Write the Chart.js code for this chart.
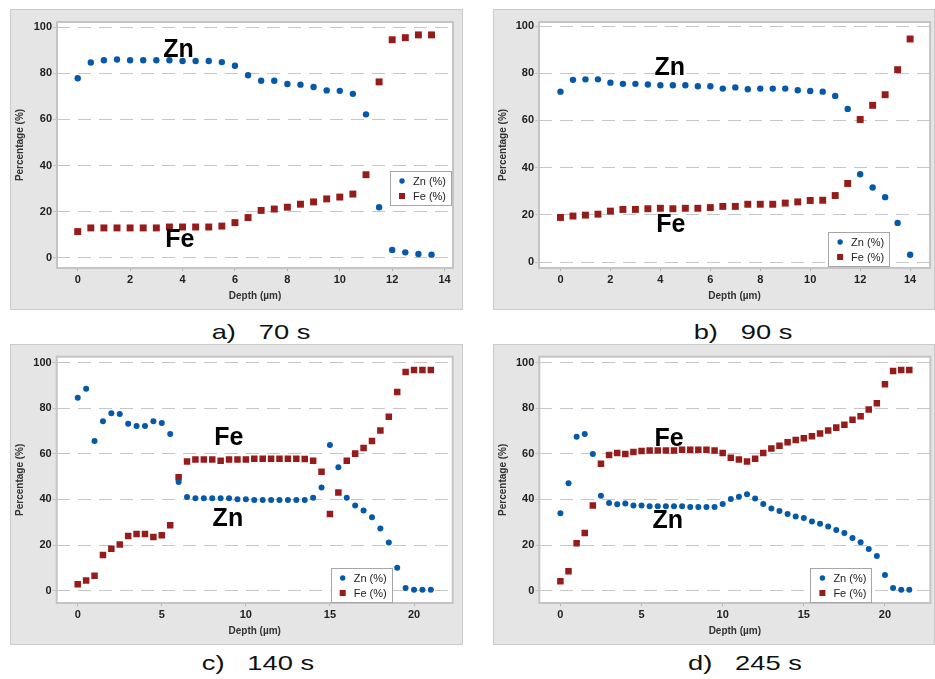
<!DOCTYPE html>
<html><head><meta charset="utf-8">
<script src="https://cdn.jsdelivr.net/npm/chart.js@4.4.1/dist/chart.umd.min.js"></script>
<style>
html,body{margin:0;padding:0;background:#fff;width:935px;height:679px;overflow:hidden;font-family:"Liberation Sans",Arial,sans-serif;}
canvas{position:absolute;}
.cap{position:absolute;font-size:21px;color:#111;white-space:pre;line-height:1;transform:translate(-50%,-50%) scaleX(1.3);}
</style></head><body>
<canvas id="ca" width="453" height="301" style="left:10px;top:9px"></canvas>
<canvas id="cb" width="442" height="301" style="left:493px;top:9px"></canvas>
<canvas id="cc" width="453" height="301" style="left:10px;top:344px"></canvas>
<canvas id="cd" width="442" height="301" style="left:493px;top:344px"></canvas>
<div class="cap" style="left:261px;top:331px">a)   70 s</div>
<div class="cap" style="left:743px;top:331px">b)   90 s</div>
<div class="cap" style="left:258px;top:662px">c)   140 s</div>
<div class="cap" style="left:745px;top:662px">d)   245 s</div>
<script>
// ---------- DATA ----------
const yTicks = [0, 20, 40, 60, 80, 100];
const xTicksAB = [0, 2, 4, 6, 8, 10, 12, 14];
const xTicksCD = [0, 5, 10, 15, 20];
const seriesNames = ['Zn (%)', 'Fe (%)'];

// a) 70 s
const depthA = [0,0.5,1,1.5,2,2.5,3,3.5,4,4.5,5,5.5,6,6.5,7,7.5,8,8.5,9,9.5,10,10.5,11,11.5,12,12.5,13,13.5];
const znA = [77.9,84.7,85.7,86.0,85.7,85.7,85.7,85.7,85.4,85.4,85.4,84.9,83.3,79.2,76.8,76.8,75.4,75.1,74.1,72.6,72.4,71.1,62.2,21.9,3.3,2.3,1.6,1.3];
const feA = [11.3,12.9,12.9,12.9,12.9,12.9,12.9,13.3,13.3,13.3,13.3,13.7,15.2,17.4,20.5,21.1,21.9,23.2,24.2,25.5,26.3,27.6,36.0,76.3,94.6,95.5,96.7,96.7];

// b) 90 s
const depthB = [0,0.5,1,1.5,2,2.5,3,3.5,4,4.5,5,5.5,6,6.5,7,7.5,8,8.5,9,9.5,10,10.5,11,11.5,12,12.5,13,13.5,14];
const znB = [72.2,77.2,77.4,77.4,76.0,75.5,75.5,75.2,74.9,74.9,74.9,74.5,74.5,73.5,74.0,73.2,73.5,73.5,73.5,72.8,72.5,72.2,70.4,64.9,37.2,31.6,27.5,16.6,3.1];
const feB = [18.9,19.5,19.9,20.3,21.6,22.3,22.3,22.6,22.8,22.6,22.8,22.8,23.1,23.6,23.6,24.5,24.5,24.5,25.0,25.5,26.1,26.2,28.2,33.3,60.4,66.4,70.9,81.5,94.5];

// c) 140 s
const depthC = [0,0.5,1,1.5,2,2.5,3,3.5,4,4.5,5,5.5,6,6.5,7,7.5,8,8.5,9,9.5,10,10.5,11,11.5,12,12.5,13,13.5,14,14.5,15,15.5,16,16.5,17,17.5,18,18.5,19,19.5,20,20.5,21];
const znC = [84.6,88.5,65.6,74.3,77.8,77.5,73.2,72.2,72.2,74.3,73.5,68.7,47.7,41.1,40.5,40.5,40.5,40.5,40.5,40.1,40.1,39.8,39.8,39.8,39.8,39.8,39.8,39.8,40.8,45.3,63.9,54.1,40.8,37.4,35.2,32.2,27.3,21.1,10.1,1.2,0.4,0.4,0.4];
const feC = [2.8,4.5,6.6,15.6,18.4,20.2,24.0,24.9,24.9,23.5,24.3,28.7,49.7,56.6,57.5,57.5,57.5,57.0,57.5,57.5,57.5,57.9,57.9,57.9,57.9,57.9,57.9,57.7,57.0,52.2,33.6,43.0,57.0,60.1,62.6,65.6,70.2,76.3,87.1,95.9,96.8,96.8,96.8];

// d) 245 s
const depthD = [0,0.5,1,1.5,2,2.5,3,3.5,4,4.5,5,5.5,6,6.5,7,7.5,8,8.5,9,9.5,10,10.5,11,11.5,12,12.5,13,13.5,14,14.5,15,15.5,16,16.5,17,17.5,18,18.5,19,19.5,20,20.5,21,21.5];
const znD = [33.9,47.1,67.5,68.7,59.9,41.6,38.4,37.9,38.2,37.4,37.4,37.0,37.0,37.0,37.0,37.0,36.7,36.7,36.7,36.7,38.0,40.2,41.2,42.3,40.4,38.0,36.0,34.9,33.6,32.5,31.9,30.3,29.4,28.1,26.6,25.3,23.1,21.2,18.3,15.2,6.9,1.2,0.4,0.4];
const feD = [4.1,8.5,20.8,25.3,37.3,55.7,59.5,60.4,59.9,60.8,61.3,61.5,61.5,61.5,61.5,61.8,61.8,61.8,61.8,61.5,60.4,58.3,57.5,56.6,57.9,60.4,62.4,63.5,65.1,66.1,66.8,67.7,68.9,70.2,71.5,72.8,74.9,76.5,79.4,82.2,90.5,96.3,96.8,96.8];

// ---------- STYLE ----------
const ZN_COLOR = '#0659a8';
const FE_COLOR = '#961b1b';
const FONT = '"Liberation Sans", Arial, sans-serif';

const panelPlugin = {
  id: 'panel',
  beforeDraw(chart) {
    const {ctx, width, height, chartArea: a} = chart;
    ctx.save();
    ctx.fillStyle = '#e5e5e5';
    ctx.fillRect(0, 0, width, height);
    ctx.strokeStyle = '#cbcbcb';
    ctx.lineWidth = 1;
    ctx.strokeRect(0.5, 0.5, width - 1, height - 1);
    ctx.fillStyle = '#ffffff';
    ctx.fillRect(a.left, a.top, a.right - a.left, a.bottom - a.top);
    ctx.restore();
  },
  beforeDatasetsDraw(chart) {
    const {ctx, chartArea: a} = chart;
    ctx.save();
    ctx.strokeStyle = '#c4c4c4';
    ctx.lineWidth = 2;
    ctx.strokeRect(a.left, a.top, a.right - a.left, a.bottom - a.top);
    ctx.restore();
  },
  afterDatasetsDraw(chart, args, o) {
    const {ctx, chartArea: a, scales} = chart;
    ctx.save();
    ctx.fillStyle = '#000';
    ctx.font = 'bold 25px ' + FONT;
    ctx.textAlign = 'center';
    ctx.textBaseline = 'alphabetic';
    (o.labels || []).forEach(l => {
      const px = scales.x.getPixelForValue(l.x);
      const py = scales.y.getPixelForValue(l.y);
      ctx.fillText(l.text, px, py + 0.358 * 25);
    });
    const L = o.legend;
    const w = 61, h = 34;
    const bx = a.right - L.right - w;
    const by = L.top !== undefined ? a.top + L.top : a.bottom - L.bottom - h;
    ctx.fillStyle = '#fff';
    ctx.fillRect(bx, by, w, h);
    ctx.strokeStyle = '#a6a6a6';
    ctx.lineWidth = 1;
    ctx.strokeRect(Math.round(bx) + 0.5, Math.round(by) + 0.5, w, h);
    ctx.font = '11px ' + FONT;
    ctx.textAlign = 'left';
    ctx.textBaseline = 'middle';
    const rows = [by + 10, by + 25];
    chart.data.datasets.forEach((ds, i) => {
      const cy = rows[i];
      ctx.fillStyle = ds.backgroundColor;
      if (ds.pointStyle === 'rect') {
        ctx.fillRect(bx + 9, cy - 3, 6, 6);
      } else {
        ctx.beginPath(); ctx.arc(bx + 12, cy, 2.7, 0, Math.PI * 2); ctx.fill();
      }
      ctx.fillStyle = '#222';
      ctx.fillText(ds.label, bx + 23, cy + 0.5);
    });
    ctx.restore();
  }
};

function makeChart(id, depth, zn, fe, xTicks, geo) {
  const toPts = vals => depth.map((d, i) => ({x: d, y: vals[i]}));
  return new Chart(document.getElementById(id), {
    type: 'scatter',
    data: {
      datasets: [
        {label: seriesNames[0], data: toPts(zn), pointStyle: 'circle', pointRadius: geo.znR, backgroundColor: ZN_COLOR, borderWidth: 0},
        {label: seriesNames[1], data: toPts(fe), pointStyle: 'rect', pointRadius: geo.feR, backgroundColor: FE_COLOR, borderWidth: 0}
      ]
    },
    options: {
      responsive: false,
      animation: false,
      devicePixelRatio: 1,
      layout: {padding: {top: geo.top, right: geo.right, left: 0, bottom: 0}},
      plugins: {
        legend: {display: false},
        tooltip: {enabled: false},
        panel: {labels: geo.labels, legend: geo.legend}
      },
      scales: {
        x: {
          type: 'linear', min: geo.xmin, max: geo.xmax,
          afterBuildTicks: s => { s.ticks = xTicks.map(v => ({value: v})); },
          afterFit: s => { s.height = 42; },
          grid: {drawOnChartArea: false, drawTicks: true, tickLength: 3, tickColor: '#b5b5b5'},
          border: {display: false},
          ticks: {font: {family: FONT, size: 11, weight: 'bold'}, color: '#222', padding: 2, maxRotation: 0},
          title: {display: true, text: 'Depth (µm)', font: {family: FONT, size: 10, weight: 'bold'}, color: '#333', padding: {top: 0, bottom: 8}}
        },
        y: {
          type: 'linear', min: geo.ymin, max: geo.ymax,
          afterBuildTicks: s => { s.ticks = yTicks.map(v => ({value: v})); },
          afterFit: s => { s.width = geo.left; },
          grid: {display: true, drawOnChartArea: true, color: '#c6c6c6', lineWidth: 1, drawTicks: true, tickLength: 4, tickColor: '#c4c4c4', tickBorderDash: []},
          border: {display: false, dash: [13, 8]},
          ticks: {font: {family: FONT, size: 11, weight: 'bold'}, color: '#222', padding: 1},
          title: {display: true, text: 'Percentage (%)', font: {family: FONT, size: 10, weight: 'bold'}, color: '#333', padding: {top: 4, bottom: 0}}
        }
      }
    },
    plugins: [panelPlugin]
  });
}

makeChart('ca', depthA, znA, feA, xTicksAB, {
  left: 47, top: 13, right: 10, xmin: -0.79, xmax: 14.32, ymin: -4.5, ymax: 102.3, znR: 3.2, feR: 4.9,
  labels: [{text: 'Zn', x: 3.85, y: 91.2}, {text: 'Fe', x: 3.9, y: 8.6}],
  legend: {right: 2, top: 149}
});
makeChart('cb', depthB, znB, feB, xTicksAB, {
  left: 46, top: 13, right: 1, xmin: -0.86, xmax: 14.8, ymin: -2.5, ymax: 101.7, znR: 3.2, feR: 4.9,
  labels: [{text: 'Zn', x: 4.38, y: 83.1}, {text: 'Fe', x: 4.42, y: 16.7}],
  legend: {right: 41, bottom: 2}
});
makeChart('cc', depthC, znC, feC, xTicksCD, {
  left: 46.7, top: 12.7, right: 10.3, xmin: -1.25, xmax: 22.3, ymin: -5.4, ymax: 102.6, znR: 3.0, feR: 4.6,
  labels: [{text: 'Fe', x: 8.99, y: 67.7}, {text: 'Zn', x: 8.93, y: 32.1}],
  legend: {right: 61, bottom: 1}
});
makeChart('cd', depthD, znD, feD, xTicksCD, {
  left: 46.3, top: 12.7, right: 1, xmin: -1.3, xmax: 22.8, ymin: -5.4, ymax: 102.6, znR: 3.0, feR: 4.6,
  labels: [{text: 'Fe', x: 6.69, y: 67.5}, {text: 'Zn', x: 6.61, y: 31.6}],
  legend: {right: 59, bottom: 1}
});
</script>
</body></html>
